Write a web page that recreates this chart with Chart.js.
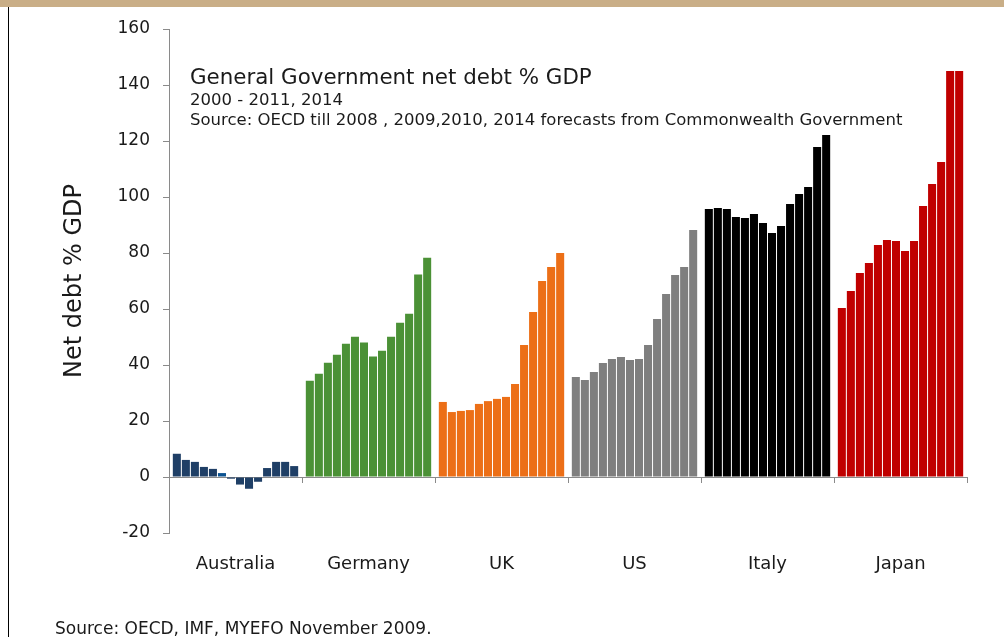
<!DOCTYPE html>
<html>
<head>
<meta charset="utf-8">
<script src="https://cdn.jsdelivr.net/npm/chart.js@4.4.1/dist/chart.umd.min.js"></script>
<style>
    html, body { margin: 0; padding: 0; background: #fff; }
    body { width: 1004px; height: 637px; position: relative; overflow: hidden; font-family: "DejaVu Sans", Verdana, sans-serif; color: #1a1a1a; }
    #topband { position: absolute; left: 0; top: 0; width: 1004px; height: 7px; background: #c9ae87; }
    #leftline { position: absolute; left: 8px; top: 7px; width: 1px; height: 630px; background: #000; }
    #wrap { position: absolute; left: 0; top: 0; width: 1004px; height: 637px; }
    #heading { position: absolute; left: 190px; top: 64px; white-space: nowrap; }
    #heading .t1 { font-size: 21.4px; line-height: 26px; }
    #heading .t2 { font-size: 16.5px; line-height: 20px; }
    #footer { position: absolute; left: 55px; top: 618px; font-size: 17px; white-space: nowrap; }
</style>
</head>
<body>
<div id="topband"></div>
<div id="leftline"></div>
<div id="wrap"><canvas id="chart"></canvas></div>
<div id="heading">
    <div class="t1">General Government net debt % GDP</div>
    <div class="t2">2000 - 2011, 2014</div>
    <div class="t2">Source: OECD till 2008 , 2009,2010, 2014 forecasts from Commonwealth Government</div>
</div>
<div id="footer">Source: OECD, IMF, MYEFO November 2009.</div>
<script>
// categories and per-country bar values (14 bars each)
const countries = ['Australia', 'Germany', 'UK', 'US', 'Italy', 'Japan'];
const australia = [8.3, 6.1, 5.4, 3.6, 2.9, 1.4, -0.6, -2.7, -4.2, -1.7, 3.2, 5.4, 5.4, 3.9];
const germany = [34.4, 36.9, 40.8, 43.7, 47.6, 50.1, 48.0, 43.0, 45.1, 50.1, 55.1, 58.3, 72.3, 78.3];
const uk = [26.8, 23.2, 23.6, 23.9, 26.1, 27.1, 27.9, 28.6, 33.2, 47.1, 58.9, 70.0, 75.0, 80.0];
const us = [35.7, 34.6, 37.5, 40.7, 42.1, 42.9, 41.8, 42.1, 47.1, 56.4, 65.4, 72.1, 75.0, 88.2];
const italy = [95.7, 96.1, 95.7, 92.9, 92.5, 93.9, 90.7, 87.1, 89.6, 97.5, 101.1, 103.6, 117.9, 122.1];
const japan = [60.4, 66.4, 72.9, 76.4, 82.9, 84.6, 84.3, 80.7, 84.3, 96.8, 104.6, 112.5, 145.0, 145.0];
const countryColors = ['#1f3f66', '#4b9136', '#ec6f17', '#7f7f7f', '#000000', '#c00000'];
const yTicks = [-20, 0, 20, 40, 60, 80, 100, 120, 140, 160];

const series = [australia, germany, uk, us, italy, japan];
const barCount = australia.length;
const axisGrey = '#8a8a8a';

// one dataset per bar position, so every country gets its own cluster of bars
const datasets = [];
for (let i = 0; i < barCount; i++) {
    const colors = countryColors.slice();
    if (i === 5) colors[0] = '#0b5291'; // the lighter Australian bar
    datasets.push({
        label: 'bar ' + (i + 1),
        data: series.map(s => s[i]),
        backgroundColor: colors,
        borderWidth: 0,
        categoryPercentage: 0.95,
        barPercentage: 0.89
    });
}

// short tick marks under the zero line at the category boundaries
const zeroTicks = {
    id: 'zeroTicks',
    afterDraw(chart) {
        const x = chart.scales.x, y = chart.scales.y;
        const y0 = y.getPixelForValue(0);
        const ctx = chart.ctx;
        ctx.save();
        ctx.strokeStyle = axisGrey;
        ctx.lineWidth = 1;
        const step = (x.right - x.left) / countries.length;
        for (let i = 0; i <= countries.length; i++) {
            const px = Math.round(x.left + i * step) + 0.5;
            ctx.beginPath();
            ctx.moveTo(px, y0);
            ctx.lineTo(px, y0 + 6);
            ctx.stroke();
        }
        ctx.restore();
    }
};

new Chart(document.getElementById('chart'), {
    type: 'bar',
    data: { labels: countries, datasets },
    options: {
        responsive: true,
        maintainAspectRatio: false,
        animation: false,
        layout: { padding: { left: 0, right: 37, top: 29, bottom: 0 } },
        plugins: { legend: { display: false }, tooltip: { enabled: false } },
        scales: {
            x: {
                grid: { display: false, drawTicks: false },
                border: { display: false },
                ticks: { color: '#1a1a1a', font: { family: 'DejaVu Sans', size: 18 }, padding: 21 },
                afterFit: (scale) => { scale.height = 104; }
            },
            y: {
                min: -20,
                max: 160,
                afterBuildTicks: (scale) => { scale.ticks = yTicks.map(v => ({ value: v })); },
                ticks: { color: '#1a1a1a', font: { family: 'DejaVu Sans', size: 17 }, padding: 13 },
                grid: {
                    color: (ctx) => ctx.tick && ctx.tick.value === 0 ? axisGrey : 'transparent',
                    tickColor: axisGrey,
                    tickLength: 6,
                    lineWidth: 1
                },
                border: { color: axisGrey, width: 1 },
                title: {
                    display: true,
                    text: 'Net debt % GDP',
                    color: '#1a1a1a',
                    font: { family: 'DejaVu Sans', size: 24, weight: 'normal' },
                    padding: { top: 60, bottom: 0 }
                },
                afterFit: (scale) => { scale.width = 169; }
            }
        }
    },
    plugins: [zeroTicks]
});
</script>
</body>
</html>
